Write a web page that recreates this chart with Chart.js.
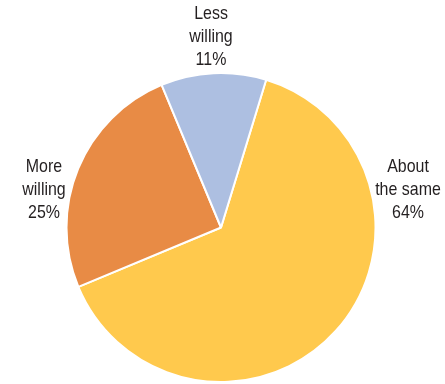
<!DOCTYPE html>
<html>
<head>
<meta charset="utf-8">
<script src="https://cdn.jsdelivr.net/npm/chart.js@4.4.1/dist/chart.umd.min.js"></script>
<style>
  html, body { margin: 0; padding: 0; background: #fff; }
  #wrap { width: 445px; height: 384px; position: relative; }
</style>
</head>
<body>
<div id="wrap"><canvas id="willingChart"></canvas></div>
<script>
// Share of respondents by willingness
const categories = ['About the same', 'More willing', 'Less willing'];
const labelLines = [['About', 'the same'], ['More', 'willing'], ['Less', 'willing']];
const shares = [64, 25, 11];
const sliceColors = ['#FFC94D', '#E88B45', '#ADBFE1'];

// Label anchor offsets from the pie centre (px)
const labelOffsets = [[187, -38], [-177, -38], [-10, -191]];
// horizontal squeeze to get a narrow face out of a regular sans
const NARROW = 0.84;

const outsideLabels = {
    id: 'outsideLabels',
    afterDatasetsDraw(chart) {
        const ctx = chart.ctx;
        const meta = chart.getDatasetMeta(0);
        const arc = meta.data[0];
        const cx = arc.x, cy = arc.y;
        const lineH = 23;
        ctx.save();
        ctx.scale(NARROW, 1);
        ctx.fillStyle = '#231F20';
        ctx.font = '19px "Liberation Sans", Arial, sans-serif';
        ctx.textAlign = 'center';
        ctx.textBaseline = 'middle';
        shares.forEach((v, i) => {
            const lines = labelLines[i].concat([v + '%']);
            const x = (cx + labelOffsets[i][0]) / NARROW;
            const y = cy + labelOffsets[i][1];
            lines.forEach((t, j) => {
                ctx.fillText(t, x, y + (j - 1) * lineH);
            });
        });
        ctx.restore();
    }
};

new Chart(document.getElementById('willingChart'), {
    type: 'pie',
    data: {
        labels: categories,
        datasets: [{
            data: shares,
            backgroundColor: sliceColors,
            borderColor: '#fff',
            borderWidth: 2
        }]
    },
    options: {
        responsive: true,
        maintainAspectRatio: false,
        animation: false,
        rotation: 17,
        layout: { padding: { top: 72, bottom: 1, left: 50, right: 53 } },
        plugins: {
            legend: { display: false },
            tooltip: { enabled: false }
        }
    },
    plugins: [outsideLabels]
});
</script>
</body>
</html>
